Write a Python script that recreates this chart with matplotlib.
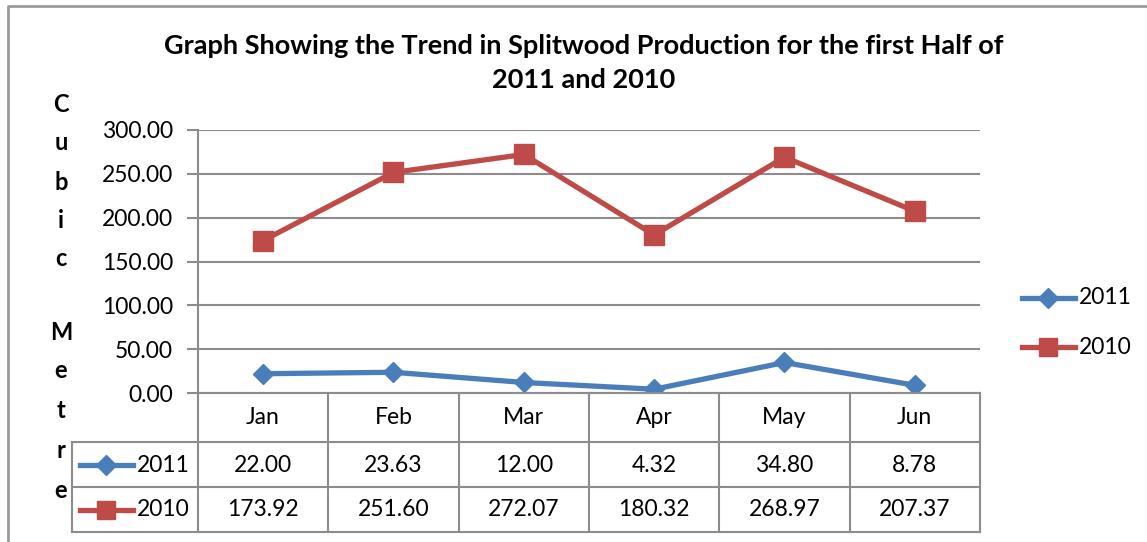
import matplotlib.pyplot as plt
import matplotlib.transforms as mtransforms
from matplotlib.lines import Line2D

months = ['Jan', 'Feb', 'Mar', 'Apr', 'May', 'Jun']
prod_2011 = [22.00, 23.63, 12.00, 4.32, 34.80, 8.78]
prod_2010 = [173.92, 251.60, 272.07, 180.32, 268.97, 207.37]
yticks = [0, 50, 100, 150, 200, 250, 300]

blue = '#4a7ebb'
red = '#be4b48'
grid = '#8c8c8c'
font = 'Lato'
fs = 16.5

W, H = 1147, 542
fig = plt.figure(figsize=(W / 100, H / 100), dpi=100)

# plot area in pixel terms
left, right, top, bottom = 198, 980, 130, 393
ax = fig.add_axes([left / W, 1 - bottom / H, (right - left) / W, (bottom - top) / H])

x = range(len(months))
ax.plot(x, prod_2011, color=blue, lw=3.8, marker='D', ms=10, label='2011')
ax.plot(x, prod_2010, color=red, lw=3.8, marker='s', ms=14, label='2010')

ax.set_xlim(-0.5, len(months) - 0.5)
ax.set_ylim(0, 300)
ax.set_yticks(yticks)
ax.set_yticklabels([f'{v:.2f}' for v in yticks], fontsize=fs, family=font)
ax.set_xticks([])
ax.tick_params(axis='y', length=8, color=grid, width=1.5, pad=10)
for v in yticks:
    ax.axhline(v, color=grid, lw=1.5, zorder=0)
for s in ['top', 'right', 'bottom']:
    ax.spines[s].set_visible(False)
ax.spines['left'].set_color(grid)
ax.spines['left'].set_linewidth(1.5)

# data table under the axis
trans = mtransforms.blended_transform_factory(ax.transData, ax.transAxes)
ah = bottom - top
def ypos(py):
    return -(py - bottom) / ah

row_edges = [393, 442, 487, 532]
leg_left = -0.5 - (left - 72) / ((right - left) / len(months))
# vertical lines
ax.plot([-0.5, -0.5], [0, ypos(532)], transform=trans, color=grid, lw=1.5, clip_on=False)
for i in range(1, len(months) + 1):
    ax.plot([i - 0.5, i - 0.5], [0, ypos(532)], transform=trans, color=grid, lw=1.5, clip_on=False)
ax.plot([leg_left, leg_left], [ypos(442), ypos(532)], transform=trans, color=grid, lw=1.5, clip_on=False)
# horizontal lines
ax.plot([-0.5, len(months) - 0.5], [0, 0], transform=trans, color=grid, lw=1.5, clip_on=False)
for r in row_edges[1:]:
    ax.plot([leg_left, len(months) - 0.5], [ypos(r), ypos(r)], transform=trans,
            color=grid, lw=1.5, clip_on=False)

for i, m in enumerate(months):
    ax.text(i, ypos(417), m, transform=trans, ha='center', va='center', fontsize=fs, family=font)
    ax.text(i, ypos(465), f'{prod_2011[i]:.2f}', transform=trans, ha='center', va='center',
            fontsize=fs, family=font)
    ax.text(i, ypos(510), f'{prod_2010[i]:.2f}', transform=trans, ha='center', va='center',
            fontsize=fs, family=font)

# legend keys inside the table
for yy, col, mk, ms, lab in [(465, blue, 'D', 10, '2011'), (510, red, 's', 13, '2010')]:
    fig.add_artist(Line2D([80 / W, 133 / W], [1 - yy / H, 1 - yy / H], color=col, lw=3.8))
    fig.add_artist(Line2D([106 / W], [1 - yy / H], color=col, marker=mk, ms=ms))
    fig.text(137 / W, 1 - yy / H, lab, ha='left', va='center', fontsize=fs, family=font)

# side legend
for yy, col, mk, ms, lab in [(298, blue, 'D', 10, '2011'), (347, red, 's', 13, '2010')]:
    fig.add_artist(Line2D([1022 / W, 1075 / W], [1 - yy / H, 1 - yy / H], color=col, lw=3.8))
    fig.add_artist(Line2D([1048 / W], [1 - yy / H], color=col, marker=mk, ms=ms))
    fig.text(1079 / W, 1 - yy / H, lab, ha='left', va='center', fontsize=fs, family=font)

# title
fig.text(584 / W, 1 - 46 / H, 'Graph Showing the Trend in Splitwood Production for the first Half of',
         ha='center', va='center', fontsize=19.5, fontweight='bold', family=font)
fig.text(584 / W, 1 - 80 / H, '2011 and 2010', ha='center', va='center', fontsize=19.5,
         fontweight='bold', family=font)

# stacked y label
ylab = 'Cubic Metre'
ys = [105, 143, 183, 220, 258, 296, 333, 370, 410, 450, 490]
for ch, yy in zip(ylab, ys):
    if ch != ' ':
        fig.text(61 / W, 1 - yy / H, ch, ha='center', va='center', fontsize=17,
                 fontweight='bold', family=font)

# chart frame
fig.add_artist(Line2D([8 / W, 8 / W, 1], [0, 1 - 6 / H, 1 - 6 / H], color='#9a9a9a', lw=2))

fig.savefig('out.png', dpi=100)
